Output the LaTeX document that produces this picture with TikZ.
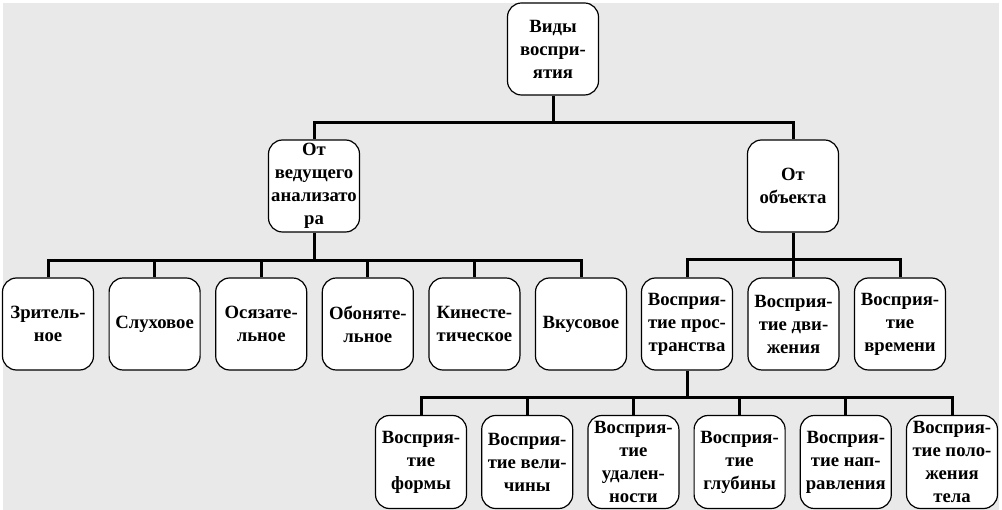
\documentclass[tikz,border=0pt]{standalone}
\usepackage{fontspec}
\setmainfont{Liberation Serif}
\usetikzlibrary{positioning}
\definecolor{bggray}{RGB}{233,233,233}
\tikzset{main node/.style={rectangle,rounded corners=14pt,draw,line width=1.2pt,fill=white,minimum width=91pt,minimum height=92pt,inner sep=1pt,align=center,font=\rmfamily\bfseries\fontsize{18.7}{23}\selectfont} }
\tikzset{bus/.style={line width=3pt}}

\begin{document}
\begin{tikzpicture}[x=1pt,y=-1pt]
\useasboundingbox (0,0) rectangle (1002,510);
\fill[bggray] (3,3) rectangle (999,510);
\begin{scope}[on grid]

  \node[main node] (v) at (553,49) {Виды\\воспри-\\ятия};
  \node[main node] (an) at (314,186) {От\\ведущего\\анализато\\ра};
  \node[main node] (ob) at (793,186) {От\\объекта};

  \node[main node] (a1) at (48,324) {Зритель-\\ное};
  \node[main node] (a2) [right=106.6pt of a1] {Слуховое};
  \node[main node] (a3) [right=106.6pt of a2] {Осязате-\\льное};
  \node[main node] (a4) [right=106.6pt of a3] {Обоняте-\\льное};
  \node[main node] (a5) [right=106.6pt of a4] {Кинесте-\\тическое};
  \node[main node] (a6) [right=106.6pt of a5] {Вкусовое};

  \node[main node] (o1) at (687,324) {Восприя-\\тие прос-\\транства};
  \node[main node] (o2) [right=106.5pt of o1] {Восприя-\\тие дви-\\жения};
  \node[main node] (o3) [right=106.5pt of o2] {Восприя-\\тие\\времени};

  \node[main node,minimum height=93pt] (p1) at (421,462) {Восприя-\\тие\\формы};
  \node[main node,minimum height=93pt] (p2) [right=106.2pt of p1] {Восприя-\\тие вели-\\чины};
  \node[main node,minimum height=93pt] (p3) [right=106.2pt of p2] {Восприя-\\тие\\удален-\\ности};
  \node[main node,minimum height=93pt] (p4) [right=106.2pt of p3] {Восприя-\\тие\\глубины};
  \node[main node,minimum height=93pt] (p5) [right=106.2pt of p4] {Восприя-\\тие нап-\\равления};
  \node[main node,minimum height=93pt] (p6) [right=106.2pt of p5] {Восприя-\\тие поло-\\жения\\тела};

  \coordinate (b0) at (553,123);
  \coordinate (b1) at (314,261);
  \coordinate (b2) at (793,260);
  \coordinate (b3) at (687,398);

  \draw[bus] (v.south) -- (b0) -| (an.north);
  \draw[bus] (b0) -| (ob.north);
  \draw[bus] (an.south) -- (b1);
  \foreach \n in {1,...,6} \draw[bus] (b1) -| (a\n.north);
  \draw[bus] (ob.south) -- (b2);
  \foreach \n in {1,...,3} \draw[bus] (b2) -| (o\n.north);
  \draw[bus] (o1.south) -- (b3);
  \foreach \n in {1,...,6} \draw[bus] (b3) -| (p\n.north);

\end{scope}
\end{tikzpicture}
\end{document}
